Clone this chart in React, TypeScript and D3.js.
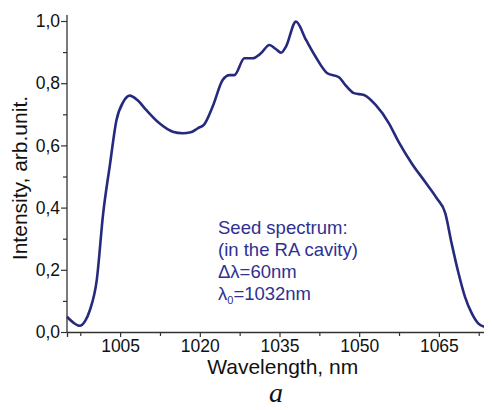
import { useEffect, useRef } from "react";
import * as d3 from "d3";

// wavelength (nm) and normalized intensity
const wavelengths = [
  995, 996.2, 997.4, 998.4, 999.3, 1000.6, 1001.8, 1003.1, 1004.3, 1005.6, 1006.8, 1008.3, 1009.9,
  1012.4, 1014.9, 1016.8, 1018.3, 1019.6, 1020.8, 1022.4, 1024.3, 1025.6, 1026.5, 1028.4, 1029.9,
  1031.5, 1033.1, 1034.3, 1035.3, 1036.2, 1038.1, 1040, 1041.8, 1044, 1046.2, 1047.4, 1049, 1050.9,
  1053.1, 1055.6, 1057.4, 1059.9, 1062.4, 1064.6, 1066.2, 1067.4, 1068.7, 1069.9, 1071.2, 1072.4,
  1073.4, 1075,
];
const intensity = [
  0.049, 0.03, 0.02, 0.035, 0.07, 0.167, 0.38, 0.54, 0.68, 0.74, 0.76, 0.745, 0.714,
  0.671, 0.644, 0.639, 0.642, 0.655, 0.667, 0.724, 0.81, 0.826, 0.826, 0.88, 0.88,
  0.896, 0.923, 0.91, 0.898, 0.917, 0.998, 0.939, 0.885, 0.832, 0.819, 0.794, 0.768, 0.762,
  0.73, 0.671, 0.612, 0.542, 0.483, 0.43, 0.382, 0.285, 0.189, 0.114, 0.06, 0.028,
  0.018, 0.015,
];

const xTicks = [1005, 1020, 1035, 1050, 1065];
const yTicks = [0, 0.2, 0.4, 0.6, 0.8, 1.0];
const noteLines = ["Seed spectrum:", "(in the RA cavity)"];

export default function App() {
  const ref = useRef<SVGSVGElement>(null);

  useEffect(() => {
    if (!ref.current) return;
    const svg = d3.select(ref.current);
    svg.selectAll("*").remove();

    const width = 492;
    const height = 410;
    const margin = { top: 21, right: 0, bottom: 78, left: 67 };
    const innerW = width - margin.left - margin.right;
    const innerH = height - margin.top - margin.bottom;
    const lineColor = "#262a7c";
    const textBlue = "#2e3192";
    const font = "Liberation Sans, Arial, sans-serif";

    const x = d3.scaleLinear().domain([995, 1075]).range([0, innerW]);
    const y = d3.scaleLinear().domain([0, 1]).range([innerH, 0]);

    const g = svg.append("g").attr("transform", `translate(${margin.left},${margin.top})`);

    const data = wavelengths.map((w, i) => ({ w, v: intensity[i] }));

    const line = d3
      .line<{ w: number; v: number }>()
      .x((d) => x(d.w))
      .y((d) => y(d.v))
      .curve(d3.curveMonotoneX);

    g.append("path")
      .datum(data)
      .attr("d", line)
      .attr("fill", "none")
      .attr("stroke", lineColor)
      .attr("stroke-width", 2.6)
      .attr("stroke-linejoin", "round");

    // x axis
    const xAxis = g.append("g").attr("transform", `translate(0,${innerH})`);
    xAxis
      .call(
        d3
          .axisBottom(x)
          .tickValues(xTicks)
          .tickSize(5)
          .tickFormat((d) => String(d))
      )
      .call((a) => a.select(".domain").attr("stroke", "#333").attr("stroke-width", 1.3));
    xAxis
      .selectAll("text")
      .attr("font-family", font)
      .attr("font-size", 17.5)
      .attr("fill", "#111")
      .attr("y", 8)
      .attr("dy", "0.71em");
    xAxis.selectAll(".tick line").attr("stroke", "#333").attr("stroke-width", 1.2);
    g.append("g")
      .attr("transform", `translate(0,${innerH})`)
      .call(
        d3
          .axisBottom(x)
          .tickValues(d3.range(997.5, 1075, 15))
          .tickSize(4)
          .tickFormat(() => "")
      )
      .call((a) => a.select(".domain").remove())
      .selectAll("line")
      .attr("stroke", "#333")
      .attr("stroke-width", 1.2);

    // y axis
    const yAxis = g.append("g");
    yAxis
      .call(
        d3
          .axisLeft(y)
          .tickValues(yTicks)
          .tickSize(6)
          .tickFormat((d) => d3.format(".1f")(d as number).replace(".", ","))
      )
      .call((a) =>
        a
          .select(".domain")
          .attr("stroke", "#333")
          .attr("stroke-width", 1.3)
          .attr("d", `M0,${innerH}V-6`)
      );
    yAxis
      .selectAll("text")
      .attr("font-family", font)
      .attr("font-size", 17.5)
      .attr("fill", "#111")
      .attr("x", -7);
    yAxis.selectAll(".tick line").attr("stroke", "#333").attr("stroke-width", 1.2);
    g.append("g")
      .call(
        d3
          .axisLeft(y)
          .tickValues([0.1, 0.3, 0.5, 0.7, 0.9])
          .tickSize(4)
          .tickFormat(() => "")
      )
      .call((a) => a.select(".domain").remove())
      .selectAll("line")
      .attr("stroke", "#333")
      .attr("stroke-width", 1.2);

    // axis titles
    svg
      .append("text")
      .attr("x", margin.left + x(1035.6))
      .attr("y", 374)
      .attr("text-anchor", "middle")
      .attr("font-family", font)
      .attr("font-size", 21)
      .attr("fill", "#111")
      .text("Wavelength, nm");

    svg
      .append("text")
      .attr("transform", `translate(27,${margin.top + y(0.495)}) rotate(-90)`)
      .attr("text-anchor", "middle")
      .attr("font-family", font)
      .attr("font-size", 21)
      .attr("fill", "#111")
      .text("Intensity, arb.unit.");

    svg
      .append("text")
      .attr("x", 276)
      .attr("y", 402)
      .attr("text-anchor", "middle")
      .attr("font-family", "Liberation Serif, Times New Roman, serif")
      .attr("font-style", "italic")
      .attr("font-size", 28)
      .attr("fill", "#111")
      .text("a");

    // annotation
    const note = svg
      .append("g")
      .attr("font-family", font)
      .attr("font-size", 18.5)
      .attr("fill", textBlue);
    noteLines.forEach((t, i) => {
      note
        .append("text")
        .attr("x", 218)
        .attr("y", 234 + i * 22)
        .text(t);
    });
    const l3 = note.append("text").attr("x", 218).attr("y", 278);
    l3.append("tspan").text("Δλ=60nm");
    const l4 = note.append("text").attr("x", 218).attr("y", 300);
    l4.append("tspan").text("λ");
    l4.append("tspan").attr("font-size", 11).attr("dy", 4).text("0");
    l4.append("tspan").attr("dy", -4).text("=1032nm");
  }, []);

  return <svg ref={ref} width={492} height={410} style={{ display: "block", margin: "-8px" }} />;
}
